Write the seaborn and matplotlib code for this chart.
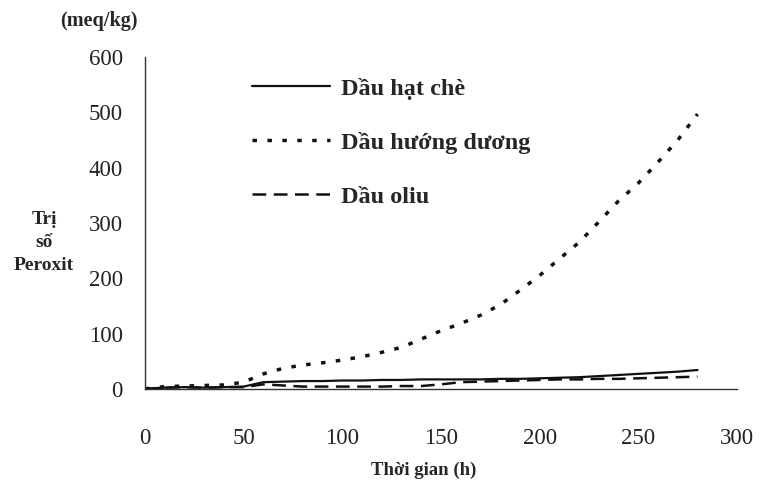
import pandas as pd
import matplotlib.pyplot as plt
import seaborn as sns

time_h = [0, 10, 20, 30, 40, 50, 60, 70, 80, 90, 100, 110, 120, 130, 140,
          150, 160, 170, 180, 190, 200, 210, 220, 230, 240, 250, 260, 270, 280]
tea_seed = [0, 2, 3, 2, 3, 4, 12, 13, 14, 14, 15, 15, 16, 16, 17,
            17, 17, 17, 18, 18, 19, 20, 21, 23, 25, 27, 29, 31, 34]
sunflower = [0, 4, 5, 6, 7, 12, 27, 37, 43, 47, 52, 58, 66, 75, 90,
             105, 118, 133, 152, 178, 205, 235, 265, 302, 340, 372, 410, 450, 497]
olive = [0, 2, 3, 2, 3, 3, 8, 6, 4, 4, 4, 4, 4, 5, 5,
         8, 12, 13, 14, 15, 16, 17, 17, 18, 18, 19, 20, 21, 22]

labels = ["Dầu hạt chè", "Dầu hướng dương", "Dầu oliu"]
x_ticks = [0, 50, 100, 150, 200, 250, 300]
y_ticks = [0, 100, 200, 300, 400, 500, 600]

sns.set_style("white")
plt.rcParams["font.family"] = ["Liberation Serif", "DejaVu Serif"]

fig = plt.figure(figsize=(7.59, 4.8), dpi=100)
ax = fig.add_axes([0.191, 0.19, 0.78, 0.691])

df = pd.DataFrame({"t": time_h, "tea": tea_seed, "sun": sunflower, "olive": olive})
col = "#111111"
sns.lineplot(data=df, x="t", y="tea", ax=ax, color=col, lw=1.6, label=labels[0])
sns.lineplot(data=df, x="t", y="sun", ax=ax, color=col, lw=2.5,
             linestyle=(0, (1.3, 3.0)), label=labels[1])
sns.lineplot(data=df, x="t", y="olive", ax=ax, color=col, lw=1.8,
             linestyle=(0, (5.5, 3)), label=labels[2])

ax.set_xlim(0, 300)
ax.set_ylim(0, 600)
ax.set_xticks(x_ticks)
ax.set_yticks(y_ticks)
ax.tick_params(axis="both", direction="out", length=5, width=1, color="#333333",
               labelsize=16.5, colors="#222222")
ax.tick_params(axis="y", pad=11)
ax.tick_params(axis="x", pad=23)
for s in ["top", "right"]:
    ax.spines[s].set_visible(False)
for s in ["left", "bottom"]:
    ax.spines[s].set_color("#333333")
    ax.spines[s].set_linewidth(1)

ax.set_xlabel("Thời gian (h)", fontsize=13.5, fontweight="bold")
ax.xaxis.set_label_coords(0.47, -0.22)
ax.set_ylabel("")

leg = ax.legend(loc="upper left", bbox_to_anchor=(0.16, 0.975), frameon=False,
                prop={"size": 17.5, "weight": "bold"}, handlelength=3.2,
                handletextpad=0.45, labelspacing=1.32, borderpad=0)

fig.text(0.058, 0.495, "Trị\nsố\nPeroxit", ha="center", va="center",
         fontsize=14, fontweight="bold", linespacing=1.45)
fig.text(0.13, 0.957, "(meq/kg)", ha="center", va="center",
         fontsize=14.5, fontweight="bold")

fig.savefig("out.png", dpi=100)
